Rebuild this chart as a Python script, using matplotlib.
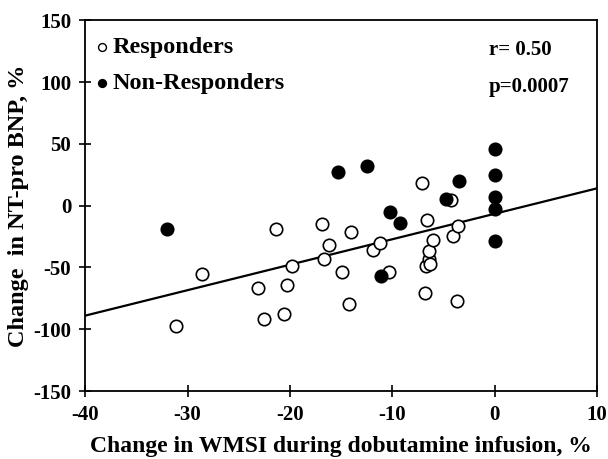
import numpy as np
import matplotlib.pyplot as plt

plt.rcParams['font.family'] = ['Liberation Serif', 'DejaVu Serif']
plt.rcParams['font.weight'] = 'bold'
plt.rcParams['axes.labelweight'] = 'bold'
plt.rcParams['axes.unicode_minus'] = False

# responders (open circles)
resp_x = [-31.1, -28.6, -23.1, -22.5, -21.4, -20.6, -20.3, -19.8, -16.9, -16.7,
          -16.2, -14.9, -14.2, -14.0, -11.9, -11.2, -10.3, -7.1, -6.8, -6.7,
          -6.6, -6.4, -6.4, -6.3, -6.0, -4.3, -4.1, -3.7, -3.6]
resp_y = [-97, -55, -67, -91.5, -19, -88, -64.5, -48.5, -14.5, -43,
          -32, -54, -79.5, -21, -36, -30.5, -54, 18, -70.5, -48.5,
          -12, -43, -37, -47.5, -28, 4.5, -24.5, -77, -16.5]

# non-responders (filled circles)
nonresp_x = [-32.0, -15.3, -12.5, -11.1, -10.2, -9.2, -4.8, -3.5, 0, 0, 0, 0, 0]
nonresp_y = [-19, 27, 32, -57, -5.5, -14, 5, 20, 45.5, 25, 7, -3, -29]

# regression line end points
fit_x = [-40, 10]
fit_y = [-89, 14]

fig = plt.figure(figsize=(6.08, 4.59), dpi=100)
ax = fig.add_axes([0.14, 0.148, 0.842, 0.808])

ax.plot(fit_x, fit_y, color='black', lw=1.6, zorder=2)
ax.scatter(resp_x, resp_y, s=80, facecolors='white', edgecolors='black',
           linewidths=1.2, zorder=3)
ax.scatter(nonresp_x, nonresp_y, s=80, facecolors='black', edgecolors='black',
           linewidths=1.2, zorder=3)

# legend
ax.scatter([-38.4], [128], s=32, facecolors='white', edgecolors='black', linewidths=1)
ax.scatter([-38.4], [99], s=32, facecolors='black', edgecolors='black', linewidths=1)
ax.text(-37.3, 128, 'Responders', fontsize=17.5, fontweight='bold',
        va='center', ha='left')
ax.text(-37.3, 99, 'Non-Responders', fontsize=17.5, fontweight='bold',
        va='center', ha='left')

ax.text(-0.6, 126, 'r= 0.50', fontsize=15, fontweight='bold', va='center', ha='left')
ax.text(-0.6, 96, 'p=0.0007', fontsize=15, fontweight='bold', va='center', ha='left')

ax.set_xlim(-40, 10)
ax.set_ylim(-150, 150)
ax.set_xticks(np.arange(-40, 11, 10))
ax.set_yticks(np.arange(-150, 151, 50))
ax.tick_params(direction='inout', length=8, width=1.2, labelsize=15, pad=6)
for lab in ax.get_xticklabels() + ax.get_yticklabels():
    lab.set_fontweight('bold')
for s in ax.spines.values():
    s.set_linewidth(1.3)

ax.set_xlabel('Change in WMSI during dobutamine infusion, %', fontsize=17,
              fontweight='bold', labelpad=8)
ax.set_ylabel('Change  in NT-pro BNP, %', fontsize=17.5, fontweight='bold', labelpad=3)

fig.savefig('out.png', dpi=100)
